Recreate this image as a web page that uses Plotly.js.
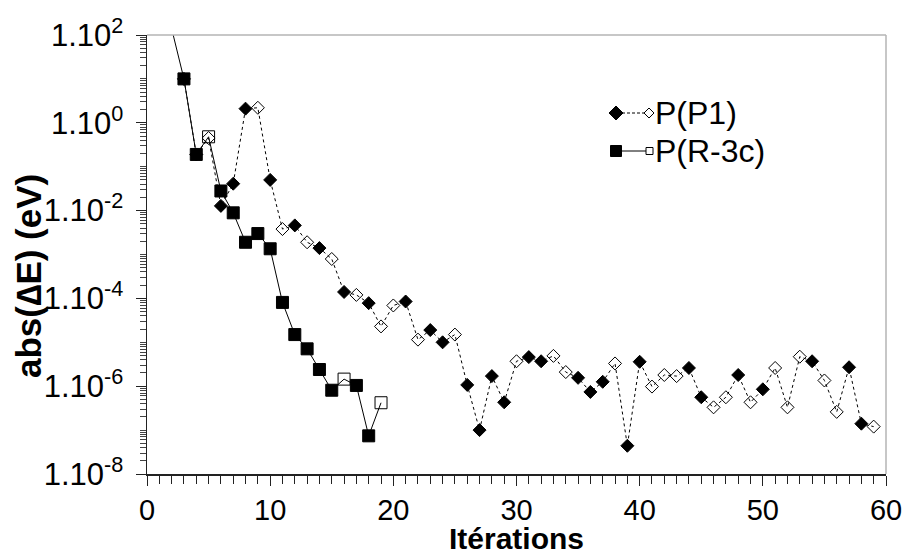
<!DOCTYPE html>
<html>
<head>
<meta charset="utf-8">
<script src="https://cdn.plot.ly/plotly-3.0.1.min.js"></script>
<style>html,body{margin:0;padding:0;background:#fff;}#chart{width:905px;height:556px;}</style>
</head>
<body>
<div id="chart"></div>
<script>
// ---- data ----
const p1Iter = [3,4,5,6,7,8,9,10,11,12,13,14,15,16,17,18,19,20,21,22,23,24,25,26,27,28,29,30,31,32,33,34,35,36,37,38,39,40,41,42,43,44,45,46,47,48,49,50,51,52,53,54,55,56,57,58,59];
const p1Val = [10,0.19,0.45,0.0128,0.041,2.1,2.2,0.050,0.0038,0.0046,0.0019,0.0014,0.00079,1.4e-4,1.2e-4,7.8e-5,2.3e-5,6.9e-5,8.5e-5,1.15e-5,1.9e-5,1.0e-5,1.5e-5,1.07e-6,1.0e-7,1.7e-6,4.3e-7,3.7e-6,4.6e-6,3.7e-6,4.9e-6,2.1e-6,1.55e-6,7.4e-7,1.26e-6,3.3e-6,4.4e-8,3.6e-6,9.8e-7,1.8e-6,1.7e-6,2.6e-6,5.6e-7,3.3e-7,5.6e-7,1.8e-6,4.3e-7,8.5e-7,2.6e-6,3.3e-7,4.7e-6,3.7e-6,1.35e-6,2.6e-7,2.7e-6,1.4e-7,1.2e-7];
// 1 = filled marker, 0 = open marker
const p1Filled = [1,1,0,1,1,1,0,1,0,1,0,1,0,1,0,1,0,0,1,0,1,1,0,1,1,1,1,0,1,1,0,0,1,1,1,0,1,1,0,0,0,1,1,0,0,1,0,1,0,0,0,1,0,0,1,1,0];

const r3cIter = [2,3,4,5,6,7,8,9,10,11,12,13,14,15,16,17,18,19];
const r3cVal = [140,10,0.19,0.48,0.028,0.0089,0.0019,0.0030,0.00135,8.1e-5,1.5e-5,7.1e-6,2.4e-6,8.1e-7,1.45e-6,1.04e-6,7.4e-8,4.2e-7];
const r3cFilled = [1,1,1,0,1,1,1,1,1,1,1,1,1,1,0,1,1,0];
const r3cShowMarker = [0,1,1,1,1,1,1,1,1,1,1,1,1,1,1,1,1,1];

const yTickVals = [1e-8,1e-6,1e-4,1e-2,1e0,1e2];
const yTickText = ['1.10<sup>-8</sup>','1.10<sup>-6</sup>','1.10<sup>-4</sup>','1.10<sup>-2</sup>','1.10<sup>0</sup>','1.10<sup>2</sup>'];
const seriesNames = ['P(P1)','P(R-3c)'];
const xTitle = 'Itérations';
const yTitle = 'abs(∆E) (eV)';

// ---- traces ----
const FONT = 'Liberation Sans, Arial, Helvetica, sans-serif';
const traceP1 = {
  x: p1Iter, y: p1Val, type: 'scatter', mode: 'lines+markers', name: seriesNames[0],
  line: {color: '#000', width: 1, dash: '3px,3px'},
  marker: {
    symbol: p1Filled.map(f => f ? 'diamond' : 'diamond-open'),
    size: 10, color: '#000', opacity: 1,
    line: {color: '#000', width: 1}
  },
  showlegend: false, hoverinfo: 'x+y'
};
const traceR = {
  x: r3cIter, y: r3cVal, type: 'scatter', mode: 'lines+markers', name: seriesNames[1],
  line: {color: '#000', width: 1},
  marker: {
    symbol: r3cFilled.map(f => f ? 'square' : 'square-open'),
    size: r3cShowMarker.map(s => s ? 12 : 0), color: '#000', opacity: 1,
    line: {color: '#000', width: 1}
  },
  showlegend: false, hoverinfo: 'x+y'
};

// ---- legend (drawn as decorations in paper coords) ----
const L = 147, R = 886, T = 35, B = 474;
const px = v => (v - L) / (R - L);
const py = v => (B - v) / (B - T);
function diamond(cx, cy, h, filled) {
  const x0 = px(cx - h), x1 = px(cx), x2 = px(cx + h);
  const y0 = py(cy + h), y1 = py(cy), y2 = py(cy - h);
  return {type: 'path', xref: 'paper', yref: 'paper',
    path: `M ${x0} ${y1} L ${x1} ${y2} L ${x2} ${y1} L ${x1} ${y0} Z`,
    fillcolor: filled ? '#000' : 'rgba(0,0,0,0)', line: {color: '#000', width: 1}};
}
function square(cx, cy, h, filled) {
  return {type: 'rect', xref: 'paper', yref: 'paper',
    x0: px(cx - h), x1: px(cx + h), y0: py(cy + h), y1: py(cy - h),
    fillcolor: filled ? '#000' : 'rgba(0,0,0,0)', line: {color: '#000', width: 1}};
}
const shapes = [
  {type: 'line', xref: 'paper', yref: 'paper', x0: 0, x1: 1, y0: 1, y1: 1, line: {color: '#b4b4b4', width: 1.5}},
  {type: 'line', xref: 'paper', yref: 'paper', x0: 1, x1: 1, y0: 0, y1: 1, line: {color: '#b4b4b4', width: 1.5}},
  {type: 'line', xref: 'paper', yref: 'paper', x0: px(622), x1: px(645), y0: py(113), y1: py(113), line: {color: '#000', width: 1, dash: '3px,2px'}},
  diamond(616, 113, 7, true),
  diamond(649, 113, 5, false),
  {type: 'line', xref: 'paper', yref: 'paper', x0: px(620), x1: px(646), y0: py(151), y1: py(151), line: {color: '#000', width: 1}},
  square(616, 151, 5.5, true),
  square(649.5, 151, 3.5, false)
];
const annotations = [
  {xref: 'paper', yref: 'paper', x: px(653), y: py(113), xanchor: 'left', yanchor: 'middle', text: seriesNames[0], showarrow: false, font: {family: FONT, size: 32, color: '#000'}},
  {xref: 'paper', yref: 'paper', x: px(653), y: py(151), xanchor: 'left', yanchor: 'middle', text: seriesNames[1], showarrow: false, font: {family: FONT, size: 32, color: '#000'}},
  {xref: 'paper', yref: 'paper', x: px(28), y: py(276), xanchor: 'center', yanchor: 'middle', textangle: -90, text: '<b>' + yTitle + '</b>', showarrow: false, font: {family: FONT, size: 35, color: '#000'}},
  {xref: 'paper', yref: 'paper', x: 0.5, y: py(556), xanchor: 'center', yanchor: 'bottom', borderpad: 0, text: '<b>' + xTitle + '</b>', showarrow: false, font: {family: FONT, size: 30, color: '#000'}}
];

const layout = {
  width: 905, height: 556,
  margin: {l: 147, r: 19, t: 35, b: 82},
  paper_bgcolor: '#fff', plot_bgcolor: '#fff',
  font: {family: FONT, color: '#000'},
  showlegend: false,
  xaxis: {
    range: [0, 60], dtick: 10, tick0: 0,
    showgrid: false, zeroline: false,
    showline: true, linecolor: '#222', linewidth: 1.5,
    ticks: 'outside', ticklen: 10, tickwidth: 1, tickcolor: '#222',
    minor: {dtick: 1, ticks: 'outside', ticklen: 8, tickwidth: 1, tickcolor: '#222', showgrid: false},
    tickfont: {family: FONT, size: 29, color: '#000'}
  },
  xaxis2: {
    overlaying: 'x', matches: 'x', anchor: 'y', side: 'bottom',
    range: [0, 60], dtick: 10, tick0: 0,
    showgrid: false, zeroline: false, showline: false,
    ticks: 'inside', ticklen: 12, tickwidth: 1, tickcolor: '#222',
    showticklabels: false
  },
  yaxis: {
    type: 'log', range: [-8, 2],
    tickmode: 'array', tickvals: yTickVals, ticktext: yTickText,
    showgrid: false, zeroline: false,
    showline: true, linecolor: '#222', linewidth: 1.5,
    ticks: 'outside', ticklen: 10, tickwidth: 1, tickcolor: '#222',
    ticklabelstandoff: 6,
    minor: {dtick: 'D1', ticks: 'outside', ticklen: 6, tickwidth: 1, tickcolor: '#444', showgrid: false},
    tickfont: {family: FONT, size: 31, color: '#000'}
  },
  yaxis2: {
    overlaying: 'y', matches: 'y', anchor: 'x', side: 'left',
    type: 'log', range: [-8, 2],
    tickmode: 'array', tickvals: yTickVals,
    showgrid: false, zeroline: false, showline: false,
    ticks: 'inside', ticklen: 10, tickwidth: 1, tickcolor: '#888',
    showticklabels: false
  },
  shapes: shapes,
  annotations: annotations
};

Plotly.newPlot('chart', [traceP1, traceR], layout, {displayModeBar: false, staticPlot: true});
</script>
</body>
</html>
